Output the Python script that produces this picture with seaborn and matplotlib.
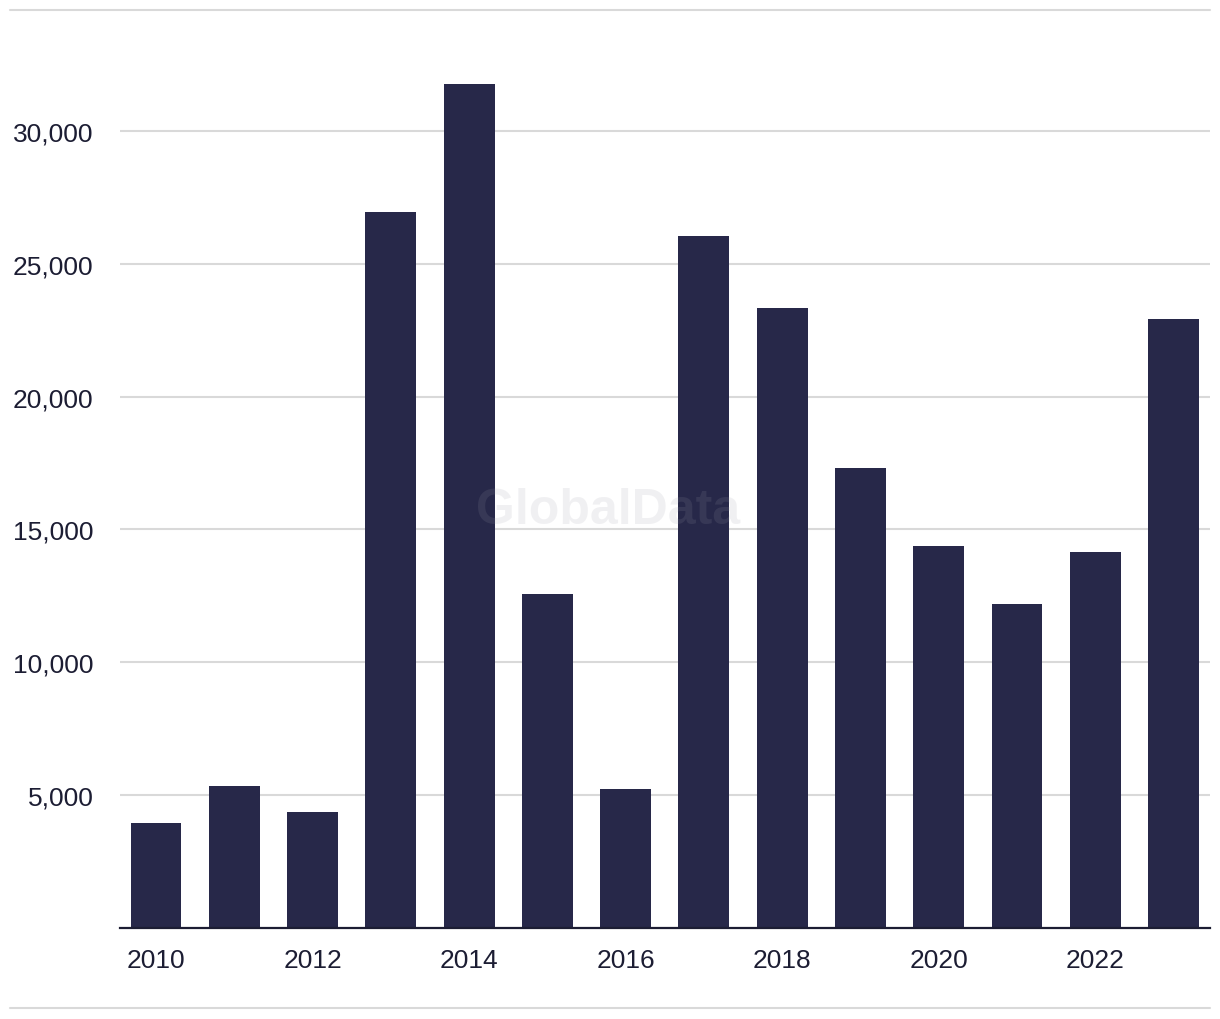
import matplotlib
matplotlib.use("Agg")
import matplotlib.pyplot as plt
import matplotlib.ticker as mticker
from matplotlib.lines import Line2D
import seaborn as sns
import pandas as pd

# values
years = [2010, 2011, 2012, 2013, 2014, 2015, 2016, 2017, 2018, 2019, 2020, 2021, 2022, 2023]
values = [3950, 5350, 4370, 26950, 31780, 12560, 5200, 26050, 23330, 17300, 14370, 12180, 14150, 22920]
y_ticks = [5000, 10000, 15000, 20000, 25000, 30000]
x_labels_shown = [2010, 2012, 2014, 2016, 2018, 2020, 2022]

df = pd.DataFrame({"year": years, "value": values})

bar_color = "#272849"
text_color = "#1c1d33"
grid_color = "#d9d9d9"

sns.set_theme(style="white")
plt.rcParams["font.family"] = ["Liberation Sans", "DejaVu Sans"]

W, H = 1220, 1020
base_y = 928.5
fig = plt.figure(figsize=(W / 100, H / 100), dpi=100)
ax = fig.add_axes([120 / W, (H - base_y) / H, 1090 / W, (base_y - 12) / H])

sns.barplot(data=df, x="year", y="value", color=bar_color, width=0.65,
            saturation=1, linewidth=0, ax=ax, zorder=3)

ax.set_xlim(-0.46, len(years) - 1 + 0.466)
ax.set_ylim(0, 5000 * (base_y - 12) / 132.7)

ax.set_yticks(y_ticks)
ax.yaxis.set_major_formatter(mticker.FuncFormatter(lambda v, p: f"{int(v):,}"))
ax.grid(axis="y", color=grid_color, linewidth=1.5, zorder=0)
ax.grid(axis="x", visible=False)

pos = [years.index(y) for y in x_labels_shown]
ax.set_xticks(pos)
ax.set_xticklabels([str(y) for y in x_labels_shown])

ax.tick_params(axis="y", length=0, pad=19, labelsize=19, labelcolor=text_color)
ax.tick_params(axis="x", length=0, pad=15, labelsize=19, labelcolor=text_color)
ax.set_xlabel("")
ax.set_ylabel("")

for s in ["top", "right", "left"]:
    ax.spines[s].set_visible(False)
ax.spines["bottom"].set_color(text_color)
ax.spines["bottom"].set_linewidth(1.6)
ax.spines["bottom"].set_zorder(4)

# watermark
ax.text(0.448, 0.455, "GlobalData", transform=ax.transAxes, ha="center", va="center",
        fontsize=36, fontweight="bold", color="#9a9aa8", alpha=0.14, zorder=5)

# top and bottom frame lines
fig.add_artist(Line2D([10 / W, 1210 / W], [(H - 11) / H, (H - 11) / H],
                      color=grid_color, linewidth=1.5, transform=fig.transFigure))
fig.add_artist(Line2D([10 / W, 1210 / W], [(H - 1009) / H, (H - 1009) / H],
                      color=grid_color, linewidth=1.5, transform=fig.transFigure))

fig.savefig("out.png", dpi=100, facecolor="white")
